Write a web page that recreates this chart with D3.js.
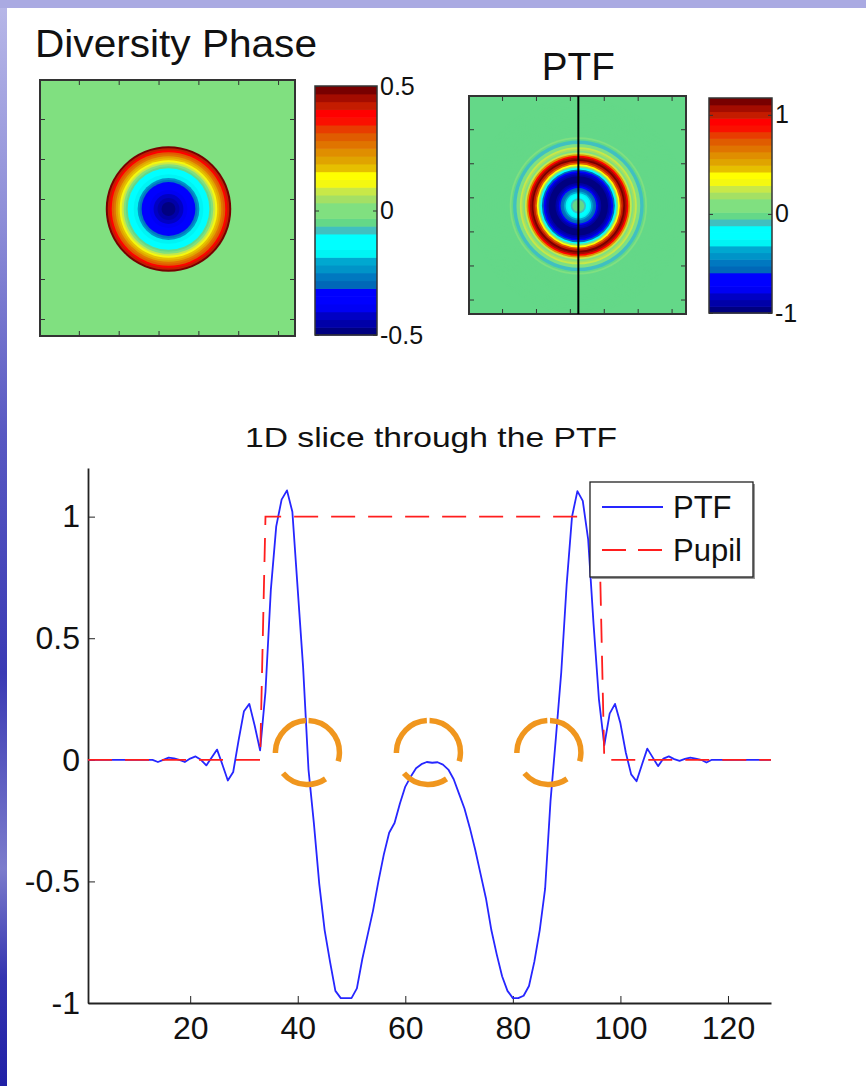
<!DOCTYPE html>
<html>
<head>
<meta charset="utf-8">
<script src="https://cdn.jsdelivr.net/npm/d3@7/dist/d3.min.js"></script>
<style>
  body { margin: 0; background: #ffffff; }
  svg { display: block; font-family: "Liberation Sans", Arial, Helvetica, sans-serif; }
</style>
</head>
<body>
<div id="chartid"></div>
<script>
/***** chart values *****/

// colour bands of both colour bars, top (max) to bottom (min)
var bandColors = ["#780000", "#a40c00", "#c41c00", "#ff0000", "#fa1000", "#e83c00", "#e05c00", "#e07400",
  "#e08e00", "#e0a400", "#e6c000", "#ffff00", "#f4f810", "#c8e848", "#a4e064", "#80e080",
  "#80e080", "#64d888", "#40c0c0", "#00ffff", "#00ffff", "#00f4f4", "#00a8d0", "#0094c8",
  "#0078c0", "#0068b8", "#0000ff", "#0000ff", "#0000f4", "#0000c4", "#0000a8", "#000080"];

// colour limits of the two images
var phaseLimits = [-0.5, 0.5];
var ptfLimits = [-1, 1.17];

// colour bar ticks
var phaseBarTicks = [-0.5, 0, 0.5];
var phaseBarLabels = ["-0.5", "0", "0.5"];
var ptfBarTicks = [-1, 0, 1];
var ptfBarLabels = ["-1", "0", "1"];

// image ticks (pixels) and the centre pixel of the pupil
var imageTicks = [20, 40, 60, 80, 100, 120];
var centrePixel = 65;

// diversity phase against distance from the centre, pixels 0 .. 31
var phaseProfile = [-0.49, -0.49, -0.485, -0.48, -0.465, -0.45, -0.43, -0.415, -0.40, -0.385, -0.37,
  -0.355, -0.335, -0.315, -0.27, -0.22, -0.18, -0.16, -0.14, -0.12, -0.10, -0.06, -0.01, 0.09, 0.12,
  0.16, 0.21, 0.26, 0.31, 0.38, 0.43, 0.48];

// 1D slice through the PTF, pixels 1 .. 128
var ptfSlice = [0, 0, 0, 0, 0, 0, 0, 0, 0, 0, 0, 0, 0,
  -0.009, 0, 0.009, 0.006, 0, -0.009, 0.005, 0.014, 0, -0.023, 0.01, 0.042, -0.02, -0.085, -0.05,
  0.08, 0.20, 0.23, 0.14, 0.039, 0.28, 0.70, 0.96, 1.07, 1.108, 1.02, 0.70, 0.38, -0.04, -0.26,
  -0.51, -0.70, -0.83, -0.95, -0.98, -0.98, -0.98, -0.94, -0.82, -0.72, -0.62, -0.50, -0.39, -0.30,
  -0.26, -0.18, -0.11, -0.07, -0.035, -0.018, -0.009, -0.012,
  -0.01, -0.02, -0.04, -0.08, -0.14, -0.20, -0.28, -0.37, -0.47, -0.57, -0.70, -0.80, -0.89, -0.95,
  -0.98, -0.98, -0.97, -0.93, -0.83, -0.70, -0.53, -0.17, 0.09, 0.36, 0.72, 1.00, 1.105, 1.065,
  0.907, 0.56, 0.25, 0.06, 0.19, 0.23, 0.15, 0.03, -0.06, -0.088, -0.02, 0.046, 0.01, -0.026,
  0.005, 0.014, 0.003, -0.004, 0.004, 0.009, 0.005, 0, -0.011, 0,
  0, 0, 0, 0, 0, 0, 0, 0, 0, 0, 0];

// pupil (dashed red line)
var pupilX = [1, 33, 34, 96, 97, 128];
var pupilY = [0, 0, 1, 1, 0, 0];

// slice axes
var sliceXTicks = [20, 40, 60, 80, 100, 120];
var sliceYTicks = [-1, -0.5, 0, 0.5, 1];
var sliceYLabels = ["-1", "-0.5", "0", "0.5", "1"];

// orange dashed rings marking the zero crossings
var ringX = [41.8, 64.3, 86.7];
var ringY = [0.03, 0.03, 0.03];

var legendNames = ["PTF", "Pupil"];

/***** svg *****/
var width = 866;
var height = 1086;
var fontFamily = "Liberation Sans, Arial, Helvetica, sans-serif";

var svg = d3.select("div#chartid")
  .append("svg")
  .attr("width", width)
  .attr("height", height)
;

/***** slide background *****/
var defs = svg.append("defs");
var stripGrad = defs.append("linearGradient")
  .attr("id", "stripGrad")
  .attr("x1", 0).attr("y1", 0).attr("x2", 0).attr("y2", 1)
;
stripGrad.selectAll("stop")
  .data([[0, "#b8b8e8"], [0.2, "#8e8ed8"], [0.4, "#5858c2"], [0.62, "#3a3ab4"], [0.8, "#7c7ccc"], [0.9, "#3434b0"], [1, "#2020a6"]])
  .enter()
  .append("stop")
  .attr("offset", function(d){ return d[0]; })
  .attr("stop-color", function(d){ return d[1]; })
;

svg.append("rect").attr("width", width).attr("height", height).attr("fill", "#ffffff");
svg.append("rect").attr("width", 7).attr("height", height).attr("fill", "url(#stripGrad)");
svg.append("rect").attr("width", width).attr("height", 8).attr("fill", "#aaaae2");

/***** helpers *****/

// framed image of a radially symmetric map, ticks inside on all four sides
function drawImage(g, x, y, color, profile) {
  var x0 = x.range()[0], x1 = x.range()[1];
  var y0 = y.range()[0], y1 = y.range()[1];
  var cx = x(centrePixel), cy = y(centrePixel);

  g.append("rect")
    .attr("x", x0).attr("y", y0)
    .attr("width", x1 - x0).attr("height", y1 - y0)
    .attr("fill", color(0))
  ;

  //concentric rings, outermost first
  g.selectAll("circle.ring")
    .data(profile.map(function(v, r){ return {r: r, v: v}; }).reverse())
    .enter()
    .append("circle")
    .attr("class", "ring")
    .attr("cx", cx)
    .attr("cy", cy)
    .attr("r", function(d){ return x(centrePixel + d.r + 0.5) - cx; })
    .attr("fill", function(d){ return color(d.v); })
  ;

  var axes = [
    [d3.axisBottom(x), "translate(0," + y0 + ")"],
    [d3.axisTop(x), "translate(0," + y1 + ")"],
    [d3.axisRight(y), "translate(" + x0 + ",0)"],
    [d3.axisLeft(y), "translate(" + x1 + ",0)"]
  ];
  axes.forEach(function(a){
    g.append("g")
      .attr("transform", a[1])
      .attr("color", "#333")
      .call(a[0].tickValues(imageTicks).tickSizeInner(5).tickSizeOuter(0).tickFormat(""))
      .select(".domain").remove()
    ;
  });

  g.append("rect")
    .attr("x", x0).attr("y", y0)
    .attr("width", x1 - x0).attr("height", y1 - y0)
    .attr("fill", "none")
    .attr("stroke", "#333")
    .attr("stroke-width", 2)
  ;
}

// colour bar: one band per colour, labels on the right
function drawColorBar(g, color, barY, left, right, ticks, labels) {
  var edges = [color.domain()[0]].concat(color.thresholds(), [color.domain()[1]]);

  g.selectAll("rect.band")
    .data(color.range())
    .enter()
    .append("rect")
    .attr("class", "band")
    .attr("x", left)
    .attr("width", right - left)
    .attr("y", function(c, i){ return barY(edges[i + 1]); })
    .attr("height", function(c, i){ return barY(edges[i]) - barY(edges[i + 1]) + 0.6; })
    .attr("fill", function(c){ return c; })
  ;

  g.append("g")
    .attr("transform", "translate(" + right + ",0)")
    .attr("color", "#333")
    .call(d3.axisRight(barY).tickValues(ticks).tickSizeInner(-4).tickSizeOuter(0).tickPadding(3)
      .tickFormat(function(d, i){ return labels[i]; }))
    .attr("font-size", 25)
    .attr("font-family", fontFamily)
    .call(function(s){ s.select(".domain").remove(); s.selectAll("text").attr("fill", "#111"); })
  ;
  g.append("g")
    .attr("transform", "translate(" + left + ",0)")
    .attr("color", "#333")
    .call(d3.axisLeft(barY).tickValues(ticks).tickSizeInner(-4).tickSizeOuter(0).tickFormat(""))
    .select(".domain").remove()
  ;

  g.append("rect")
    .attr("x", left).attr("y", barY.range()[1])
    .attr("width", right - left)
    .attr("height", barY.range()[0] - barY.range()[1])
    .attr("fill", "none")
    .attr("stroke", "#333")
    .attr("stroke-width", 1.5)
  ;
}

/************************************************ DIVERSITY PHASE ************************************************/

var phaseColor = d3.scaleQuantize()
  .domain(phaseLimits)
  .range(bandColors.slice().reverse())
;
var phaseX = d3.scaleLinear().domain([0.5, 128.5]).range([40, 295]);
var phaseY = d3.scaleLinear().domain([0.5, 128.5]).range([80, 336]);

var phaseG = svg.append("g");
drawImage(phaseG, phaseX, phaseY, phaseColor, phaseProfile);

var phaseBarY = d3.scaleLinear().domain(phaseLimits).range([335, 86]);
drawColorBar(phaseG, phaseColor, phaseBarY, 315, 377, phaseBarTicks, phaseBarLabels);

phaseG.append("text")
  .attr("x", 35)
  .attr("y", 57)
  .attr("font-size", 38)
  .attr("textLength", 282)
  .attr("lengthAdjust", "spacingAndGlyphs")
  .attr("fill", "#111")
  .text("Diversity Phase")
;

/************************************************ PTF IMAGE ************************************************/

var ptfColor = d3.scaleQuantize()
  .domain(ptfLimits)
  .range(bandColors.slice().reverse())
;
var ptfX = d3.scaleLinear().domain([0.5, 128.5]).range([469, 686]);
var ptfY = d3.scaleLinear().domain([0.5, 128.5]).range([96, 314]);

var ptfG = svg.append("g");
//radial profile = right half of the slice, starting at the centre pixel
drawImage(ptfG, ptfX, ptfY, ptfColor, ptfSlice.slice(centrePixel - 1));

//slice position
ptfG.append("line")
  .attr("x1", ptfX(centrePixel)).attr("x2", ptfX(centrePixel))
  .attr("y1", ptfY.range()[0]).attr("y2", ptfY.range()[1])
  .attr("stroke", "#000")
  .attr("stroke-width", 2)
;

var ptfBarY = d3.scaleLinear().domain(ptfLimits).range([313, 98]);
drawColorBar(ptfG, ptfColor, ptfBarY, 709, 772, ptfBarTicks, ptfBarLabels);

ptfG.append("text")
  .attr("x", ptfX(centrePixel))
  .attr("y", 80)
  .attr("font-size", 38)
  .attr("text-anchor", "middle")
  .attr("textLength", 73)
  .attr("lengthAdjust", "spacingAndGlyphs")
  .attr("fill", "#111")
  .text("PTF")
;

/************************************************ 1D SLICE ************************************************/

var sliceX = d3.scaleLinear().domain([1, 128]).range([88, 771]);
var sliceY = d3.scaleLinear().domain([-1, 1.2]).range([1003, 468]);

var sliceG = svg.append("g");

sliceG.append("text")
  .attr("x", 431)
  .attr("y", 447)
  .attr("font-size", 28)
  .attr("text-anchor", "middle")
  .attr("textLength", 372)
  .attr("lengthAdjust", "spacingAndGlyphs")
  .attr("fill", "#111")
  .text("1D slice through the PTF")
;

//axes
sliceG.append("g")
  .attr("transform", "translate(0," + sliceY(-1) + ")")
  .attr("color", "#222")
  .call(d3.axisBottom(sliceX).tickValues(sliceXTicks).tickSizeInner(-7).tickSizeOuter(0).tickPadding(13))
  .attr("font-size", 32)
  .attr("font-family", fontFamily)
  .call(function(s){ s.select(".domain").attr("stroke-width", 1.8); s.selectAll("text").attr("fill", "#111"); })
;
sliceG.append("g")
  .attr("transform", "translate(" + sliceX(1) + ",0)")
  .attr("color", "#222")
  .call(d3.axisLeft(sliceY).tickValues(sliceYTicks).tickSizeInner(-7).tickSizeOuter(0).tickPadding(8)
    .tickFormat(function(d, i){ return sliceYLabels[i]; }))
  .attr("font-size", 32)
  .attr("font-family", fontFamily)
  .call(function(s){ s.select(".domain").attr("stroke-width", 1.8); s.selectAll("text").attr("fill", "#111"); })
;

//lines
var line = d3.line()
  .x(function(d){ return sliceX(d[0]); })
  .y(function(d){ return sliceY(d[1]); })
;

var ptfPoints = ptfSlice.map(function(v, i){ return [i + 1, v]; });
var pupilPoints = pupilX.map(function(v, i){ return [v, pupilY[i]]; });

sliceG.append("path")
  .datum(ptfPoints)
  .attr("d", line)
  .attr("fill", "none")
  .attr("stroke", "#2626ff")
  .attr("stroke-width", 1.8)
  .attr("stroke-linejoin", "round")
;
sliceG.append("path")
  .datum(pupilPoints)
  .attr("d", line)
  .attr("fill", "none")
  .attr("stroke", "#ff1e1e")
  .attr("stroke-width", 1.8)
  .attr("stroke-dasharray", "24 13")
;

//legend
var legendStyles = [
  {stroke: "#2626ff", dash: null},
  {stroke: "#ff1e1e", dash: "24 12"}
];
var legend = sliceG.append("g").attr("transform", "translate(590,482)");
legend.append("rect")
  .attr("x", 2).attr("y", 2)
  .attr("width", 163).attr("height", 95)
  .attr("fill", "#999")
;
legend.append("rect")
  .attr("width", 163).attr("height", 95)
  .attr("fill", "#fff")
  .attr("stroke", "#222")
  .attr("stroke-width", 1.3)
;
var legendItems = legend.selectAll("g.item")
  .data(legendNames)
  .enter()
  .append("g")
  .attr("class", "item")
  .attr("transform", function(d, i){ return "translate(0," + (25 + i * 43) + ")"; })
;
legendItems.append("line")
  .attr("x1", 12).attr("x2", 73)
  .attr("stroke", function(d, i){ return legendStyles[i].stroke; })
  .attr("stroke-width", 1.8)
  .attr("stroke-dasharray", function(d, i){ return legendStyles[i].dash; })
;
legendItems.append("text")
  .attr("x", 83)
  .attr("dy", "0.36em")
  .attr("font-size", 31)
  .attr("fill", "#111")
  .text(function(d){ return d; })
;

//orange dashed rings
sliceG.selectAll("circle.ring")
  .data(ringX.map(function(v, i){ return [v, ringY[i]]; }))
  .enter()
  .append("circle")
  .attr("class", "ring")
  .attr("cx", function(d){ return sliceX(d[0]); })
  .attr("cy", function(d){ return sliceY(d[1]); })
  .attr("r", 32)
  .attr("fill", "none")
  .attr("stroke", "#f0961e")
  .attr("stroke-width", 5.5)
  .attr("stroke-dasharray", "58 22 47 22 49 3")
  .attr("transform", function(d){ return "rotate(-88," + sliceX(d[0]) + "," + sliceY(d[1]) + ")"; })
;
</script>
</body>
</html>
